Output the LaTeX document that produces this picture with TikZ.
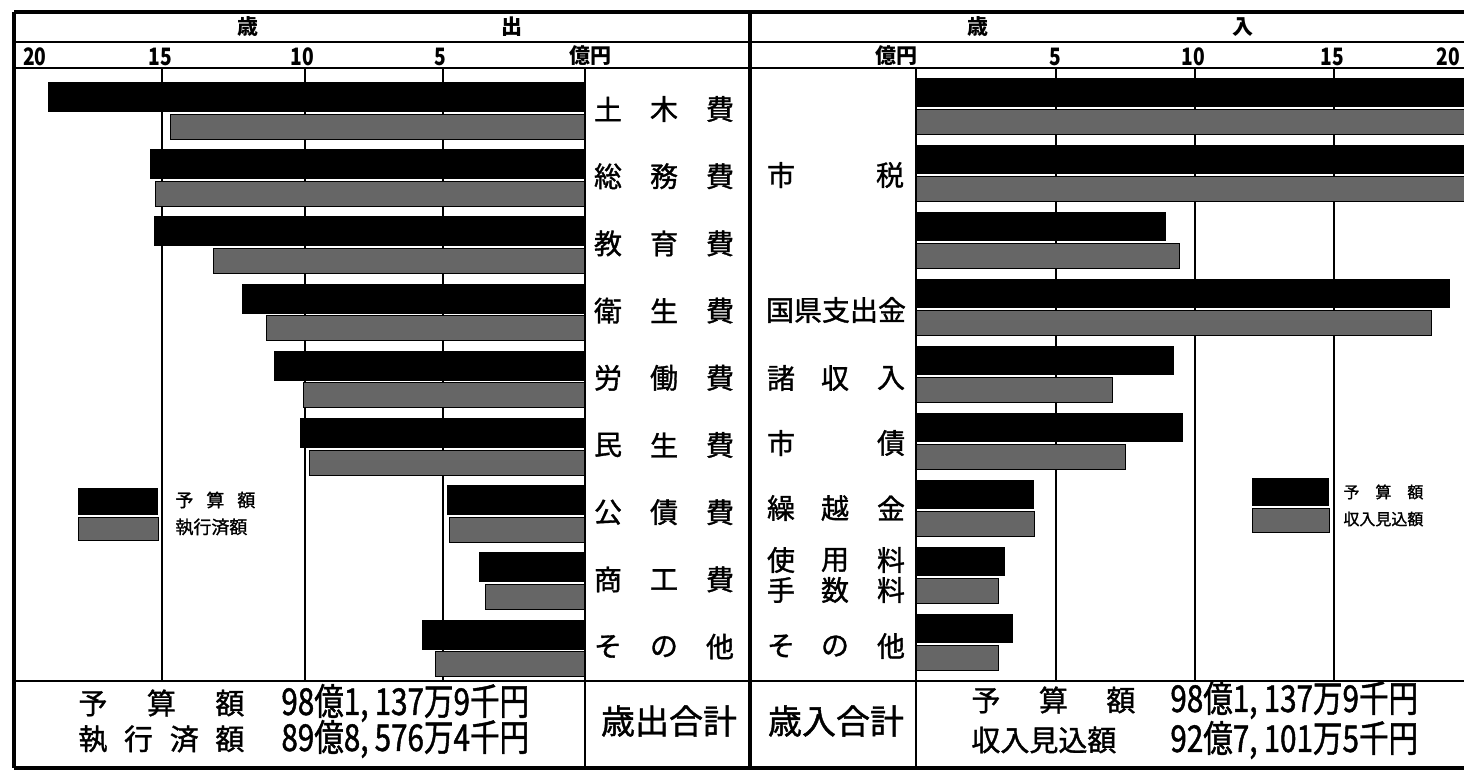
\documentclass[tikz,border=0pt]{standalone}
\usepackage{fontspec}
\setmainfont{Noto Sans CJK JP}
\newfontfamily\medfont[FakeBold=1.2]{Noto Sans CJK JP}
\newfontfamily\condfont[FakeStretch=0.8,FakeBold=1.2]{Noto Sans CJK JP}
\newfontfamily\axfont[FakeStretch=0.8]{Noto Sans CJK JP}
\definecolor{barg}{gray}{0.40}
\begin{document}
\begin{tikzpicture}[x=0.5pt,y=-0.5pt,
  frameline/.style={line width=1.6pt},
  ruleline/.style={line width=1.1pt},
  gridline/.style={line width=0.7pt},
  blackbar/.style={fill=black},
  graybar/.style={fill=barg,draw=black,line width=0.5pt},
  lab/.style={font=\medfont\fontsize{14}{16}\selectfont,inner sep=0pt},
  head/.style={font=\bfseries\fontsize{10.5}{12}\selectfont,inner sep=0pt},
  axisnum/.style={font=\axfont\bfseries\fontsize{12}{13}\selectfont,inner sep=0pt},
  legtext/.style={font=\medfont\fontsize{9}{10}\selectfont,inner sep=0pt,anchor=west},
  legtextR/.style={font=\medfont\fontsize{8}{9}\selectfont,inner sep=0pt,anchor=west},
  totlab/.style={font=\medfont\fontsize{14.5}{16}\selectfont,inner sep=0pt,anchor=west},
  totnum/.style={font=\condfont\fontsize{18.5}{20}\selectfont,inner sep=0pt,anchor=west},
  sumlab/.style={font=\medfont\fontsize{17}{19}\selectfont,inner sep=0pt}]
\useasboundingbox (0,0) rectangle (1464,772);
\fill[white] (0,0) rectangle (1464,772);

% grid lines
\foreach \gx in {162,305,443,1056,1195,1334,1474}
  \draw[gridline] (\gx,68) -- (\gx,681);

% left bars (expenditure)
\foreach \i/\bl/\gl in {1/48/170,2/150/155,3/154/213,4/242/266,5/274/303,6/300/309,7/447/449,8/479/485,9/422/435}{
  \pgfmathsetmacro\ty{82+67.2*(\i-1)}
  \fill[blackbar] (\bl,\ty) rectangle (584,\ty+30);
  \filldraw[graybar] (\gl,\ty+32) rectangle (584,\ty+57);
}
% right bars (revenue)
\foreach \i/\br/\gr in {1/1490/1490,2/1490/1490,3/1166/1179,4/1450/1431,5/1174/1112,6/1183/1125,7/1034/1034,8/1005/998,9/1013/998}{
  \pgfmathsetmacro\ty{78+67*(\i-1)}
  \fill[blackbar] (916,\ty) rectangle (\br,\ty+29);
  \filldraw[graybar] (916,\ty+31) rectangle (\gr,\ty+56);
}

% frame and rules
\draw[frameline] (14,12) -- (1490,12);
\draw[frameline] (14,768) -- (1490,768);
\draw[frameline] (14,12) -- (14,768);
\draw[frameline] (750,12) -- (750,768);
\draw[ruleline] (14,42) -- (1490,42);
\draw[ruleline] (14,68) -- (1490,68);
\draw[ruleline] (14,681) -- (1490,681);
\draw[ruleline] (585,68) -- (585,768);
\draw[ruleline] (916,68) -- (916,768);

% headers
\node[head] (hL1) at (248,27) {歳};
\node[head] (hL2) at (512,27) {出};
\node[head] (hR1) at (978,27) {歳};
\node[head] (hR2) at (1243,27) {入};

% axis numbers
\node[axisnum] (aL20) at (35,57) {20};
\node[axisnum] (aL15) at (160,57) {15};
\node[axisnum] (aL10) at (302,57) {10};
\node[axisnum] (aL5) at (440,57) {5};
\node[head] (aLu) at (590,56) {億円};
\node[head] (aRu) at (896,56) {億円};
\node[axisnum] (aR5) at (1055,57) {5};
\node[axisnum] (aR10) at (1193,57) {10};
\node[axisnum] (aR15) at (1332,57) {15};
\node[axisnum] (aR20) at (1448,57) {20};

% expenditure labels
\foreach \i/\ca/\cb/\cc in {1/土/木/費,2/総/務/費,3/教/育/費,4/衛/生/費,5/労/働/費,6/民/生/費,7/公/債/費,8/商/工/費,9/そ/の/他}{
  \pgfmathsetmacro\ly{109+67.2*(\i-1)}
  \node[lab] (e\i a) at (608,\ly) {\ca};
  \node[lab] (e\i b) at (664,\ly) {\cb};
  \node[lab] (e\i c) at (720,\ly) {\cc};
}
% revenue labels
\node[lab] (r1a) at (781,175) {市};
\node[lab] (r1c) at (890,175) {税};
\node[lab] (r2) at (836,310) {国県支出金};
\node[lab] (r3a) at (781,378) {諸};
\node[lab] (r3b) at (835,378) {収};
\node[lab] (r3c) at (891,378) {入};
\node[lab] (r4a) at (781,443) {市};
\node[lab] (r4c) at (891,443) {債};
\node[lab] (r5a) at (781,508) {繰};
\node[lab] (r5b) at (835,508) {越};
\node[lab] (r5c) at (891,508) {金};
\node[lab] (r6a) at (781,560) {使};
\node[lab] (r6b) at (835,560) {用};
\node[lab] (r6c) at (891,560) {料};
\node[lab] (r7a) at (781,590) {手};
\node[lab] (r7b) at (835,590) {数};
\node[lab] (r7c) at (891,590) {料};
\node[lab] (r8a) at (781,646) {そ};
\node[lab] (r8b) at (835,646) {の};
\node[lab] (r8c) at (891,646) {他};

% legends
\fill[blackbar] (78,488) rectangle (158,515);
\filldraw[graybar] (78,517) rectangle (158,540);
\node[legtext] (lgL1) at (175,500) {\makebox[40pt][s]{予\hfill 算\hfill 額}};
\node[legtext] (lgL2) at (175,527) {執行済額};
\fill[blackbar] (1252,478) rectangle (1329,506);
\filldraw[graybar] (1252,508) rectangle (1329,532);
\node[legtextR] (lgR1) at (1343,492) {\makebox[40pt][s]{予\hfill 算\hfill 額}};
\node[legtextR] (lgR2) at (1343,519) {収入見込額};

% totals
\node[totlab] (tL1) at (78,703) {\makebox[83pt][s]{予\hfill 算\hfill 額}};
\node[totlab] (tL2) at (78,739) {\makebox[83pt][s]{執\hfill 行\hfill 済\hfill 額}};
\node[totnum] (tL1n) at (281,703) {98億1,\,137万9千円};
\node[totnum] (tL2n) at (281,739) {89億8,\,576万4千円};
\node[sumlab] (sE) at (669,721) {歳出合計};
\node[sumlab] (sR) at (836,721) {歳入合計};
\node[totlab] (tR1) at (971,700) {\makebox[82pt][s]{予\hfill 算\hfill 額}};
\node[totlab] (tR2) at (971,740) {\makebox[82pt][s]{収入見込額}};
\node[totnum] (tR1n) at (1170,700) {98億1,\,137万9千円};
\node[totnum] (tR2n) at (1170,740) {92億7,\,101万5千円};
\end{tikzpicture}
\end{document}
